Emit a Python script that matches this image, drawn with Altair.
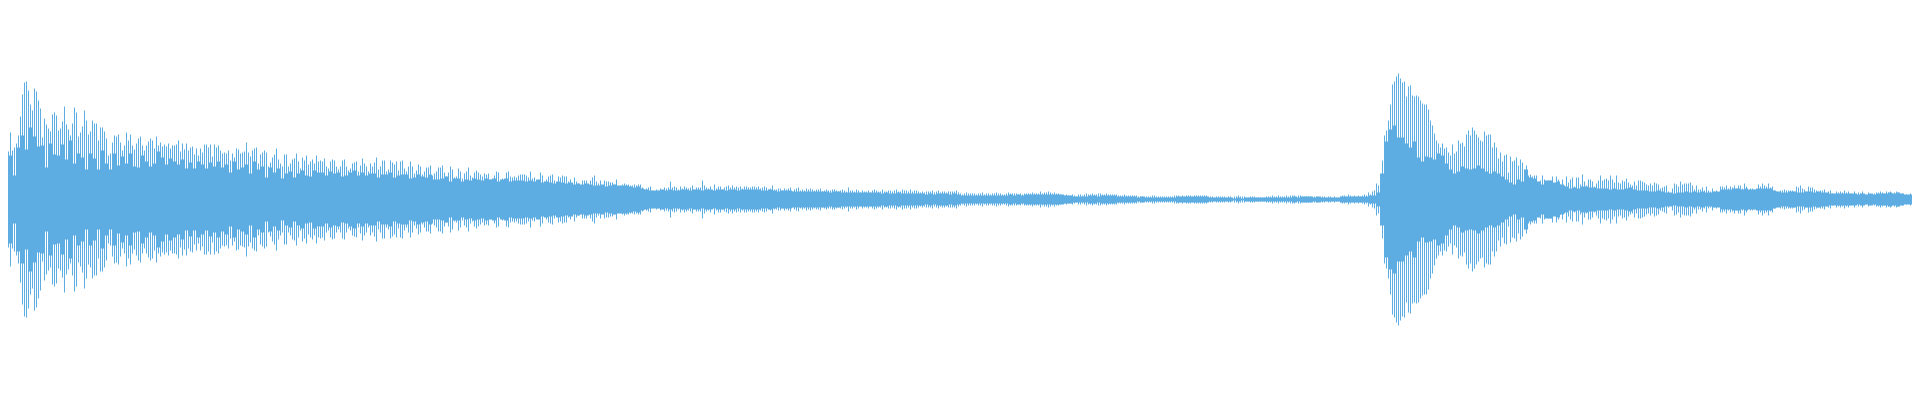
import altair as alt
import pandas as pd

# peak height of the thin spikes, one value per 2 px column pair, 20 per row
spike_amp = [
96,93,44,55,48,67,49,52,56,64,83,105,117,118,109,95,89,111,108,99,
91,62,81,75,71,68,85,87,84,69,71,78,93,75,70,64,76,92,87,63,
67,73,89,79,65,68,79,76,76,59,72,72,68,61,44,46,57,64,63,65,
57,49,54,67,59,65,54,50,56,61,63,54,49,54,58,61,59,51,63,54,
57,53,55,53,56,51,54,54,55,59,48,56,50,56,49,52,53,45,51,44,
51,47,55,55,52,55,43,55,52,54,49,46,47,46,49,39,46,42,51,50,
46,47,48,57,47,43,49,51,52,36,45,47,49,47,33,37,42,45,51,40,
36,33,45,45,33,36,40,41,46,38,31,42,39,44,35,38,40,36,44,38,
39,38,41,33,31,38,40,39,33,30,33,39,40,33,29,31,36,37,38,28,
34,41,36,33,28,36,33,37,42,30,33,39,39,28,30,39,37,35,38,29,
38,39,31,28,33,38,33,26,29,35,33,25,28,32,32,34,24,26,28,32,
32,34,27,23,27,33,30,22,23,31,28,21,26,28,32,24,22,27,29,27,
25,23,26,25,26,20,19,24,28,27,19,21,18,27,28,23,22,23,22,24,
25,25,25,24,22,28,21,22,19,19,27,24,18,20,23,24,25,19,17,23,
22,24,23,23,18,20,17,22,18,16,14,19,19,19,16,19,22,24,18,16,
19,14,19,18,18,17,17,15,20,13,13,15,16,15,15,14,14,15,14,15,
15,12,10,11,12,13,9,8,10,9,11,9,12,11,12,18,12,13,12,10,
13,11,13,12,11,12,14,10,12,12,12,19,14,12,11,13,10,15,11,13,
13,10,12,13,14,12,14,12,13,12,13,11,13,13,12,12,13,13,12,13,
11,12,13,12,10,11,14,10,10,11,11,9,11,10,11,12,8,10,11,12,
9,10,9,11,10,11,10,9,10,10,11,8,9,10,9,9,10,10,9,8,
9,10,9,8,12,9,9,8,10,9,7,9,8,8,9,7,9,10,9,8,
8,10,8,8,9,9,8,9,10,8,8,10,9,9,8,10,8,9,9,8,
7,8,7,8,8,8,9,7,8,9,7,8,8,7,8,8,8,8,9,7,
6,5,6,7,6,6,6,6,5,6,6,7,5,6,6,5,6,6,7,6,
6,5,5,6,7,6,6,6,6,5,6,5,6,6,6,6,7,6,6,6,
8,6,7,7,8,7,6,7,6,6,5,4,4,5,4,4,5,4,3,5,
5,4,5,6,5,5,6,5,5,6,6,5,5,6,5,5,5,5,5,4,
4,4,5,4,4,4,4,4,4,3,3,3,3,3,3,3,4,4,3,3,
3,3,3,3,3,3,3,4,4,4,3,4,3,4,4,4,3,4,4,4,
4,4,4,4,3,3,3,2,3,3,3,3,3,2,3,3,2,3,3,4,
3,3,3,2,2,3,3,3,2,2,2,2,2,3,3,3,4,3,3,4,
3,3,3,4,3,4,4,4,3,4,4,3,3,3,3,3,3,3,3,2,
3,3,3,2,3,3,2,3,2,2,3,4,4,3,5,4,3,4,3,4,
3,4,5,4,7,5,8,9,16,14,25,39,64,69,79,95,115,118,123,126,
121,117,118,103,113,114,104,103,104,103,99,96,95,95,90,79,74,66,59,56,
52,56,51,52,47,44,55,46,48,59,56,57,53,65,69,64,72,69,65,62,
59,58,68,64,65,65,52,57,52,41,47,38,44,45,27,43,38,39,42,34,
40,37,30,34,24,25,23,24,24,15,19,24,20,18,19,19,23,16,23,20,
15,20,14,23,17,20,22,13,22,22,15,25,18,14,20,20,18,13,16,19,
24,19,20,21,19,24,20,17,24,17,16,19,18,21,17,15,14,18,14,19,
19,18,17,15,14,16,14,17,16,15,11,12,13,14,8,6,11,16,15,13,
18,15,16,16,16,17,14,10,14,10,10,12,9,13,9,8,11,8,9,7,
13,13,12,14,11,13,12,14,11,14,14,11,16,13,9,11,11,10,9,15,
13,16,14,13,16,12,13,9,8,7,9,9,10,9,9,9,9,8,13,12,
14,11,10,8,13,12,12,10,9,8,9,9,10,6,8,9,6,5,8,7,
8,7,9,7,8,6,5,8,6,7,6,8,6,5,7,5,6,6,7,7,
8,7,6,8,7,8,6,7,8,7,5,6,4,5,4,6,3,4,5,4,
]

# height of the solid body, one value per 4 px, 10 per row
core_amp = [
36,20,44,24,52,64,50,72,63,53,
54,32,56,45,44,55,40,59,36,46,
42,30,46,41,30,49,36,30,46,34,
43,36,46,33,32,44,38,33,36,48,
42,35,41,38,35,40,31,37,31,38,
35,31,37,33,38,32,35,27,38,30,
32,35,26,38,30,33,22,32,27,31,
21,26,28,22,26,29,24,23,29,27,
27,24,28,26,27,23,24,27,29,24,
27,24,26,26,22,25,25,27,22,24,
25,25,21,22,25,23,22,25,20,20,
21,23,18,21,21,18,20,19,21,20,
19,21,20,21,18,20,21,18,19,19,
19,18,19,18,20,17,18,17,16,18,
17,16,17,15,16,15,16,15,14,14,
15,13,14,15,14,14,14,13,12,13,
11,10,9,9,9,10,9,10,9,9,
10,10,9,10,10,9,10,10,9,10,
10,9,10,10,9,10,10,10,10,10,
9,9,10,9,8,9,9,9,8,8,
8,8,8,8,8,8,8,7,8,8,
7,7,7,7,7,7,7,7,7,7,
6,7,6,6,7,6,6,6,6,6,
6,5,6,5,6,6,6,5,6,5,
4,4,4,4,4,4,4,4,4,4,
4,4,5,4,5,4,5,5,5,5,
5,5,5,5,5,5,4,4,3,3,
3,3,4,4,3,4,4,4,4,3,
3,3,3,3,2,3,2,2,2,2,
2,2,2,2,3,3,3,3,3,3,
3,3,2,2,2,2,2,2,1,2,
1,2,2,2,2,2,2,2,2,2,
2,2,2,3,2,3,3,3,2,3,
2,2,2,2,2,3,3,3,3,3,
3,3,4,4,7,26,58,70,74,62,
62,56,52,58,42,38,43,42,40,46,
44,36,30,26,28,33,31,30,31,34,
31,28,26,28,26,23,20,17,15,20,
18,30,22,21,18,15,19,19,17,18,
15,13,11,12,11,13,13,12,12,11,
11,11,10,11,10,10,11,12,10,9,
9,9,8,8,9,8,7,7,6,7,
7,8,7,8,7,8,7,7,8,8,
10,10,10,11,11,10,11,10,10,11,
11,11,11,9,8,7,7,8,8,7,
7,8,8,7,8,7,7,6,6,6,
6,6,6,6,5,6,5,6,5,6,
6,6,7,6,7,6,5,5,4,5,
]

color = "#5DADE2"

spikes = pd.DataFrame({"a": spike_amp})
spikes["x"] = spikes.index * 2
spikes["x2"] = spikes["x"] + 1
spikes["neg"] = -spikes["a"]

core = pd.DataFrame({"a": core_amp})
core["x"] = core.index * 4
core["x2"] = core["x"] + 4
core["neg"] = -core["a"]

xs = alt.Scale(domain=[8, 1912], nice=False, zero=False)
ys = alt.Scale(domain=[-192.5, 191.5], nice=False, zero=False)


def layer(df):
    return alt.Chart(df).mark_rect(color=color, clip=True, strokeWidth=0).encode(
        x=alt.X("x:Q", scale=xs, axis=None),
        x2="x2:Q",
        y=alt.Y("a:Q", scale=ys, axis=None),
        y2="neg:Q",
    )


chart = (layer(core) + layer(spikes)).properties(
    width=1904, height=384, padding=0
).configure_view(strokeWidth=0)

chart.save("out.html", embed_options={"renderer": "svg", "actions": False})
